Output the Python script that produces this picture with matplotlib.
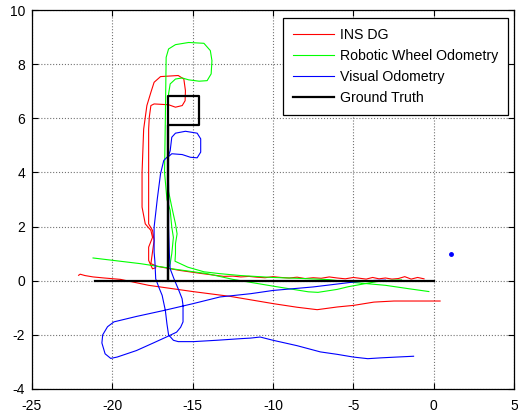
import numpy as np
import matplotlib
matplotlib.use("Agg")
import matplotlib.pyplot as plt

plt.rcParams['font.family'] = ['Liberation Sans', 'DejaVu Sans']
plt.rcParams['axes.unicode_minus'] = False

nan = np.nan

# INS DG (red) -- main path, then lower return line (separated by nan)
ins_x = [-0.6, -1.0, -1.4, -1.8, -2.2, -2.6, -3.0, -3.4, -3.8, -4.2, -4.6, -5.0, -5.5, -6.0,
         -6.5, -7.0, -7.5, -8.0, -8.5, -9.0, -9.5, -10.0, -10.5, -11.0, -11.5, -12.0, -12.5, -13.07,
         -14.5, -15.8, -17.2, -17.6, -17.5, -17.4, -17.5, -17.74, -17.74, -17.74, -17.74, -17.7,
         -17.6, -17.4, -16.5, -16.07, -15.65, -15.47, -15.45, -15.55, -15.9, -17.0, -17.4, -17.6,
         -17.85, -18.05, -18.15, -18.15, -17.95, -17.6, -17.5, -17.74, -17.74, -17.5, -17.3,
         nan,
         -22.1, -22.0, -21.7, -21.2, -20.5, -19.5, -17.74, -15.0, -12.65, -9.95, -8.5, -7.25,
         -6.0, -4.97, -3.72, -2.47, 0.4]
ins_y = [0.07, 0.12, 0.06, 0.15, 0.08, 0.06, 0.1, 0.07, 0.12, 0.06, 0.09, 0.12, 0.07, 0.1,
         0.14, 0.09, 0.11, 0.08, 0.13, 0.1, 0.12, 0.15, 0.11, 0.13, 0.16, 0.14, 0.17, 0.16,
         0.27, 0.38, 0.53, 0.63, 1.06, 1.49, 1.86, 2.1, 3.2, 4.5, 5.6, 6.04,
         6.47, 6.53, 6.5, 6.41, 6.47, 6.65, 7.02, 7.45, 7.58, 7.54, 7.33, 6.96,
         6.47, 5.6, 4.0, 2.72, 2.1, 1.86, 1.6, 1.24, 0.75, 0.44, 0.48,
         nan,
         0.2, 0.24, 0.19, 0.14, 0.1, 0.05, -0.17, -0.4, -0.58, -0.85, -0.98, -1.07,
         -0.97, -0.91, -0.79, -0.75, -0.75]

# Robotic Wheel Odometry (green)
rwo_x = [-0.3, -1.5, -3.0, -4.9, -6.5, -8.5, -10.0, -12.0, -13.3, -14.3, -15.3, -16.1,
         -16.07, -16.07, -15.97, -16.07, -16.3, -16.5, -16.55, -16.55, -16.5, -16.4, -16.07,
         -15.65, -15.25, -14.6, -14.1, -13.85, -13.8, -13.9, -14.3, -15.25, -16.07, -16.5,
         -16.65, -16.7, -16.75, -16.6, -16.4, -16.3, -16.2, -16.3, -16.4, -16.5, -18.25, -21.2,
         nan,
         -16.4, -14.1, -12.5, -11.0, -10.0, -7.8, -7.2, -6.0, -5.3, -4.0, -3.2, -2.0]
rwo_y = [-0.4, -0.3, -0.17, -0.07, 0.04, 0.09, 0.12, 0.19, 0.26, 0.33, 0.5, 0.72,
         1.0, 1.37, 1.73, 2.1, 2.72, 3.3, 4.5, 6.0, 6.9, 7.27, 7.45,
         7.49, 7.42, 7.37, 7.39, 7.64, 8.13, 8.5, 8.77, 8.8, 8.72, 8.56,
         8.25, 6.0, 4.0, 3.0, 2.6, 1.98, 1.6, 1.0, 0.63, 0.47, 0.63, 0.84,
         nan,
         0.45, 0.26, 0.05, -0.1, -0.2, -0.41, -0.43, -0.32, -0.22, -0.08, 0.0, 0.03]

# Visual Odometry (blue)
vo_x = [-1.25, -2.3, -3.3, -4.1, -5.0, -6.0, -7.05, -8.5, -10.0, -10.8, -11.4, -12.0, -13.5,
        -14.95, -15.9, -16.2, -16.5, -16.6, -16.7, -16.9, -17.1, -17.3, -17.35, -17.4, -17.4,
        -17.3, -17.2, -17.0, -16.8, -16.5, -16.4, -16.3, -16.07, -15.45, -14.72, -14.5, -14.5,
        -14.72, -15.14, -15.65, -16.3, -16.55, -16.5, -16.5, -16.45, -16.4, -16.15, -15.9,
        -15.66, -15.6, -15.6, -15.75, -16.0, -16.6, -17.45, -18.5, -19.7, -20.1, -20.45, -20.65,
        -20.6, -20.3, -19.9, -18.5, -16.8, -15.0, -13.3, -11.4, -10.0, -7.5, -5.0, -3.7, -3.0]
vo_y = [-2.79, -2.82, -2.85, -2.88, -2.82, -2.72, -2.63, -2.4, -2.2, -2.08, -2.12, -2.14, -2.2,
        -2.25, -2.25, -2.2, -2.0, -1.6, -1.1, -0.54, -0.25, 0.07, 0.7, 1.06, 1.98,
        2.5, 3.03, 3.95, 4.44, 4.62, 4.8, 5.3, 5.45, 5.52, 5.45, 5.24, 4.75,
        4.54, 4.56, 4.66, 4.69, 4.56, 3.5, 2.0, 1.0, 0.44, 0.05, -0.3,
        -0.66, -0.91, -1.52, -1.72, -1.9, -2.07, -2.3, -2.58, -2.82, -2.87, -2.7, -2.3,
        -2.0, -1.7, -1.52, -1.32, -1.1, -0.85, -0.6, -0.48, -0.36, -0.23, -0.05, 0.01, 0.02]
vo_dot_x = [1.05]
vo_dot_y = [1.0]

# Ground truth (black)
gt_x = [0.0, -16.53, -16.53, -14.58, -14.58, -16.53, -16.53, -21.06]
gt_y = [0.0, 0.0, 6.84, 6.84, 5.76, 5.76, 0.0, 0.0]

x_ticks = [-25, -20, -15, -10, -5, 0, 5]
y_ticks = [-4, -2, 0, 2, 4, 6, 8, 10]

fig = plt.figure(figsize=(5.18, 4.13), dpi=100)
ax = fig.add_axes([32/518, (413-389)/413, (514-32)/518, (389-10)/413])

ax.plot(ins_x, ins_y, color='#ff0000', lw=0.8, label='INS DG')
ax.plot(rwo_x, rwo_y, color='#00ff00', lw=0.8, label='Robotic Wheel Odometry')
ax.plot(vo_x, vo_y, color='#0000ff', lw=0.8, label='Visual Odometry')
ax.plot(vo_dot_x, vo_dot_y, color='#0000ff', marker='.', ms=5, ls='none')
ax.plot(gt_x, gt_y, color='black', lw=1.6, label='Ground Truth')

ax.set_xlim(-25, 5)
ax.set_ylim(-4, 10)
ax.set_xticks(x_ticks)
ax.set_yticks(y_ticks)
ax.tick_params(direction='in', length=4, width=0.8, top=True, right=True, labelsize=10)
ax.tick_params(axis='x', pad=7)
ax.tick_params(axis='y', pad=5)
ax.grid(True, color='0.45', linestyle=':', linewidth=0.8)
for s in ax.spines.values():
    s.set_linewidth(0.9)

leg = ax.legend(loc='upper right', bbox_to_anchor=(0.988, 0.979), borderaxespad=0,
                fontsize=10.2, frameon=True, fancybox=False, framealpha=1, edgecolor='black',
                handlelength=2.9, handletextpad=0.4, labelspacing=0.5, borderpad=0.7)
leg.get_frame().set_linewidth(0.9)

fig.savefig('out.png', dpi=100)
